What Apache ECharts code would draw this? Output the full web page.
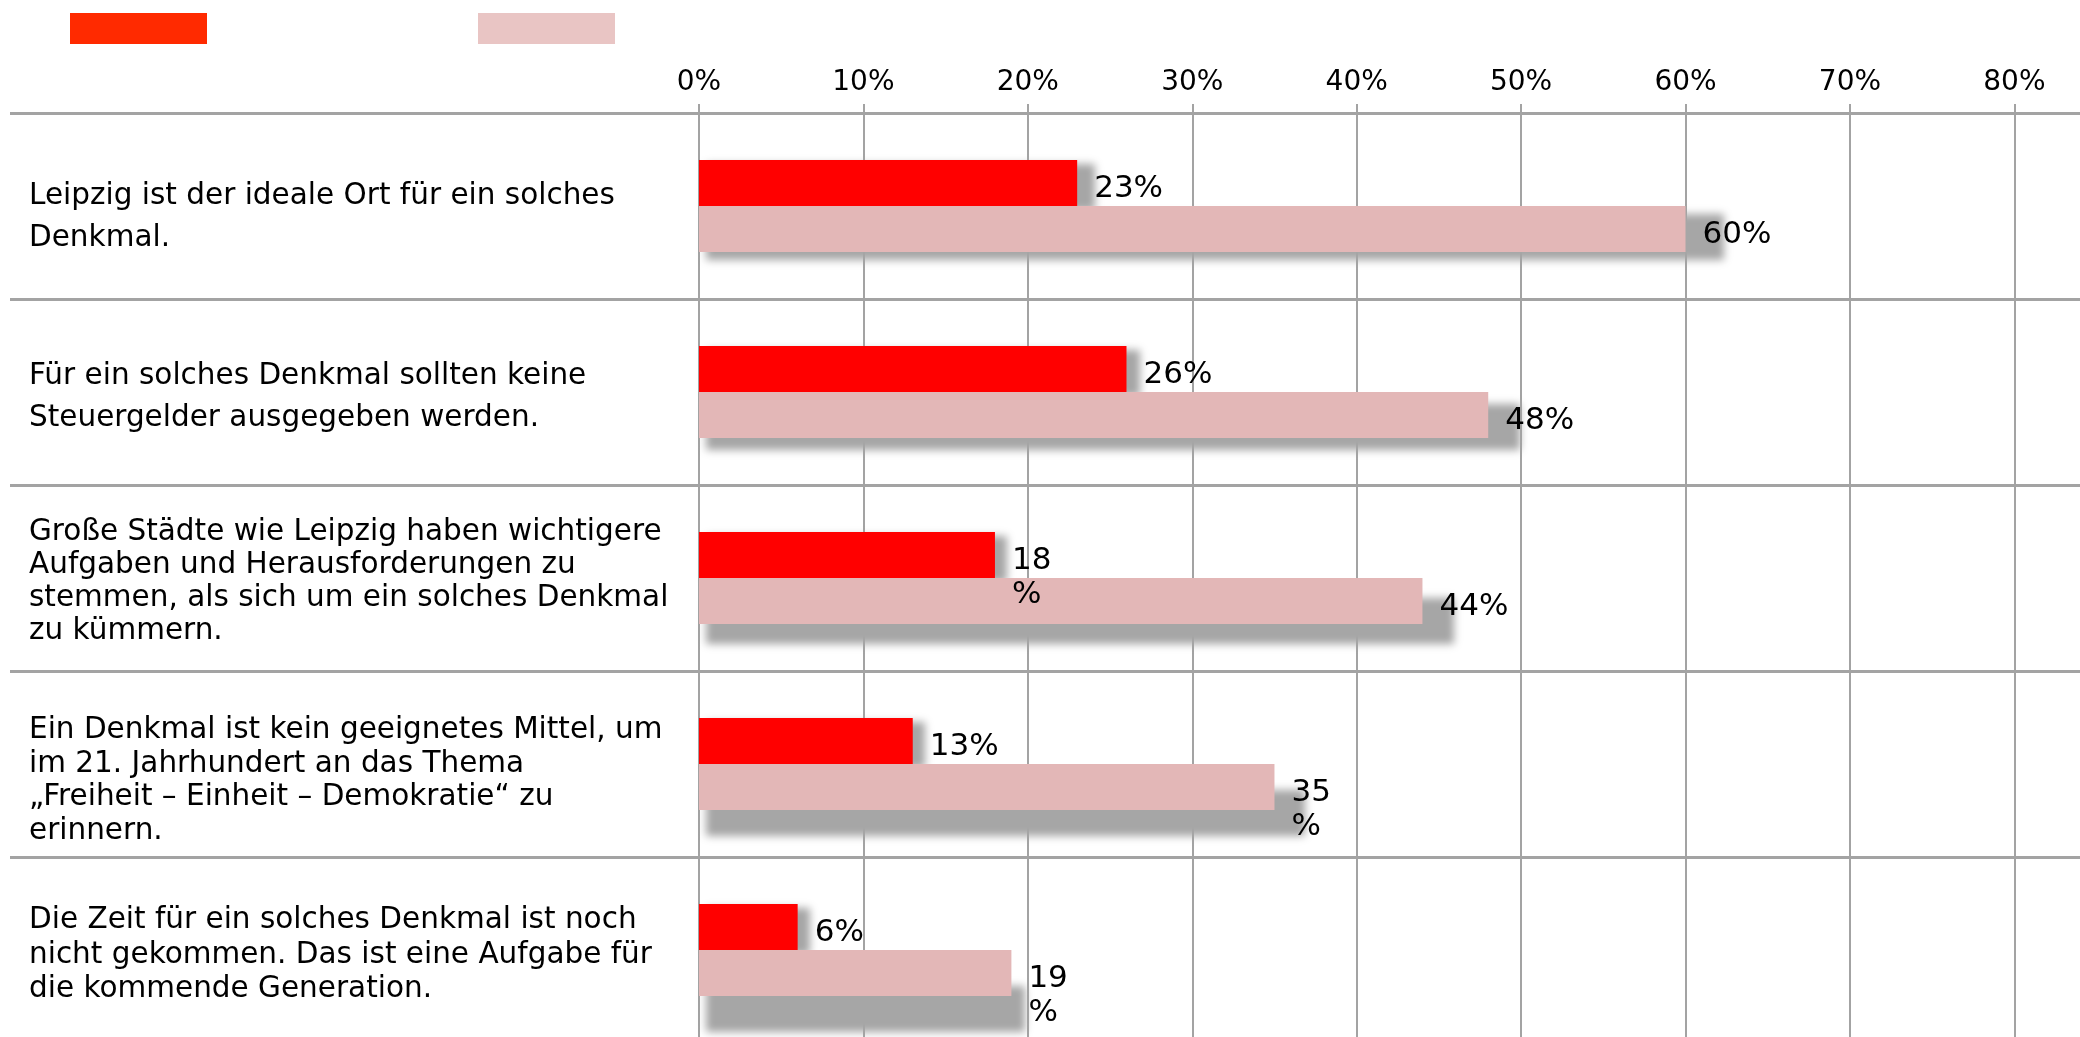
<!DOCTYPE html>
<html>
<head>
<meta charset="utf-8">
<script src="https://cdn.jsdelivr.net/npm/echarts@6/dist/echarts.min.js"></script>
<style>
  html, body { margin: 0; padding: 0; background: #ffffff; }
  #chart { width: 2080px; height: 1037px; }
</style>
</head>
<body>
<div id="chart"></div>
<script>
// Statements shown on the left, top to bottom
const categories = [
  'Leipzig ist der ideale Ort für ein solches\nDenkmal.',
  'Für ein solches Denkmal sollten keine\nSteuergelder ausgegeben werden.',
  'Große Städte wie Leipzig haben wichtigere\nAufgaben und Herausforderungen zu\nstemmen, als sich um ein solches Denkmal\nzu kümmern.',
  'Ein Denkmal ist kein geeignetes Mittel, um\nim 21. Jahrhundert an das Thema\n„Freiheit – Einheit – Demokratie“ zu\nerinnern.',
  'Die Zeit für ein solches Denkmal ist noch\nnicht gekommen. Das ist eine Aufgabe für\ndie kommende Generation.'
];

// Agreement shares in percent
const seriesNames = ['Reihe 1', 'Reihe 2'];
const redValues = [23, 26, 18, 13, 6];
const pinkValues = [60, 48, 44, 35, 19];

// Percent tick values along the top axis
const tickValues = [0, 10, 20, 30, 40, 50, 60, 70, 80];

// Label wrapping (value and percent sign on separate lines)
const redWrap = [false, false, true, false, false];
const pinkWrap = [false, false, false, true, true];

// Per-row styling of the statement text: line spacing and downward nudge
const catLineHeights = [42, 42, 33, 33.5, 34.5];
const catNudge = [11, 5, 4, 17, 5];

// Drop shadow reach per row: [extra length to the right, drop below]
const redShadow = [[18, 4], [14, 4], [12, 4], [12, 4], [12, 4]];
const pinkShadow = [[38, 8], [32, 12], [32, 20], [31, 26], [14, 36]];

const FONT = 'DejaVu Sans';
const GRID_GRAY = '#a3a3a3';
const SHADOW_GRAY = '#a6a6a6';
const BAR_W = 46;
const SHIFT = 4000; // the block is drawn off-canvas so that only its blurred shadow shows

function valueLabel(wrap) {
  return {
    show: true,
    position: 'right',
    distance: 17,
    color: '#000000',
    fontFamily: FONT,
    fontSize: 31,
    lineHeight: 34,
    verticalAlign: 'top',
    offset: [0, -11],
    formatter: p => wrap[p.dataIndex] ? p.value + '\n%' : p.value + '%'
  };
}

// Soft gray block lying behind a bar; side: -1 = upper bar, 0 = lower bar
function shadowSeries(values, reach, side) {
  return {
    type: 'custom',
    z: 1,
    silent: true,
    clip: false,
    data: values.map((v, i) => [v, i]),
    renderItem: (params, api) => {
      const row = api.value(1);
      const start = api.coord([0, row]);
      const end = api.coord([api.value(0), row]);
      const r = reach[params.dataIndex];
      const inset = 7;
      return {
        type: 'rect',
        shape: {
          x: start[0] + inset - SHIFT,
          y: end[1] + side * BAR_W + r[1],
          width: end[0] - start[0] - inset + r[0],
          height: BAR_W
        },
        style: {
          fill: SHADOW_GRAY,
          shadowColor: SHADOW_GRAY,
          shadowBlur: 8,
          shadowOffsetX: SHIFT,
          shadowOffsetY: 0
        }
      };
    }
  };
}

// Invisible spacer lines that push each statement block down a little
const spacerStyles = {};
catNudge.forEach((n, i) => {
  spacerStyles['sp' + i] = { fontSize: 1, lineHeight: Math.max(1, 2 * n) };
});

const chart = echarts.init(document.getElementById('chart'), null, { renderer: 'canvas' });

chart.setOption({
  animation: false,
  backgroundColor: '#ffffff',
  legend: {
    left: 70,
    top: 13,
    padding: 0,
    icon: 'rect',
    itemWidth: 137,
    itemHeight: 31,
    itemGap: 271,
    formatter: () => '',
    data: [
      { name: seriesNames[0], itemStyle: { color: '#ff2a00' } },
      { name: seriesNames[1], itemStyle: { color: '#e9c5c4' } }
    ]
  },
  grid: {
    left: 699, right: -10, top: 113, height: 930,
    containLabel: false,
    outerBoundsMode: 'none'
  },
  xAxis: {
    type: 'value',
    position: 'top',
    min: tickValues[0],
    max: 84.6,
    interval: tickValues[1] - tickValues[0],
    axisLine: { show: true, lineStyle: { color: GRID_GRAY, width: 3 } },
    axisTick: { show: true, length: 9, lineStyle: { color: GRID_GRAY, width: 2 } },
    axisLabel: {
      show: true,
      margin: 16,
      color: '#000000',
      fontFamily: FONT,
      fontSize: 28,
      showMaxLabel: false,
      formatter: v => tickValues.indexOf(v) >= 0 ? v + '%' : ''
    },
    splitLine: { show: true, lineStyle: { color: GRID_GRAY, width: 2 } }
  },
  yAxis: {
    type: 'category',
    inverse: true,
    data: categories.map((c, i) => ({
      value: c,
      textStyle: { align: 'left', lineHeight: catLineHeights[i] }
    })),
    axisLine: { show: false },
    axisTick: {
      show: true,
      length: 689,
      lineStyle: { color: GRID_GRAY, width: 3 }
    },
    splitLine: { show: true, interval: 0, lineStyle: { color: GRID_GRAY, width: 3 } },
    axisLabel: {
      margin: 670,
      align: 'left',
      color: '#000000',
      fontFamily: FONT,
      fontSize: 29.5,
      lineHeight: 33,
      interval: 0,
      formatter: (value, index) => '{sp' + index + '|\u200b}\n' + value,
      rich: spacerStyles
    }
  },
  series: [
    shadowSeries(redValues, redShadow, -1),
    shadowSeries(pinkValues, pinkShadow, 0),
    {
      name: seriesNames[0],
      type: 'bar',
      z: 3,
      barWidth: BAR_W,
      barGap: '0%',
      itemStyle: { color: '#ff0000' },
      label: valueLabel(redWrap),
      data: redValues
    },
    {
      name: seriesNames[1],
      type: 'bar',
      z: 3,
      barWidth: BAR_W,
      barGap: '0%',
      itemStyle: { color: '#e3b7b7' },
      label: valueLabel(pinkWrap),
      data: pinkValues
    }
  ]
});
</script>
</body>
</html>
